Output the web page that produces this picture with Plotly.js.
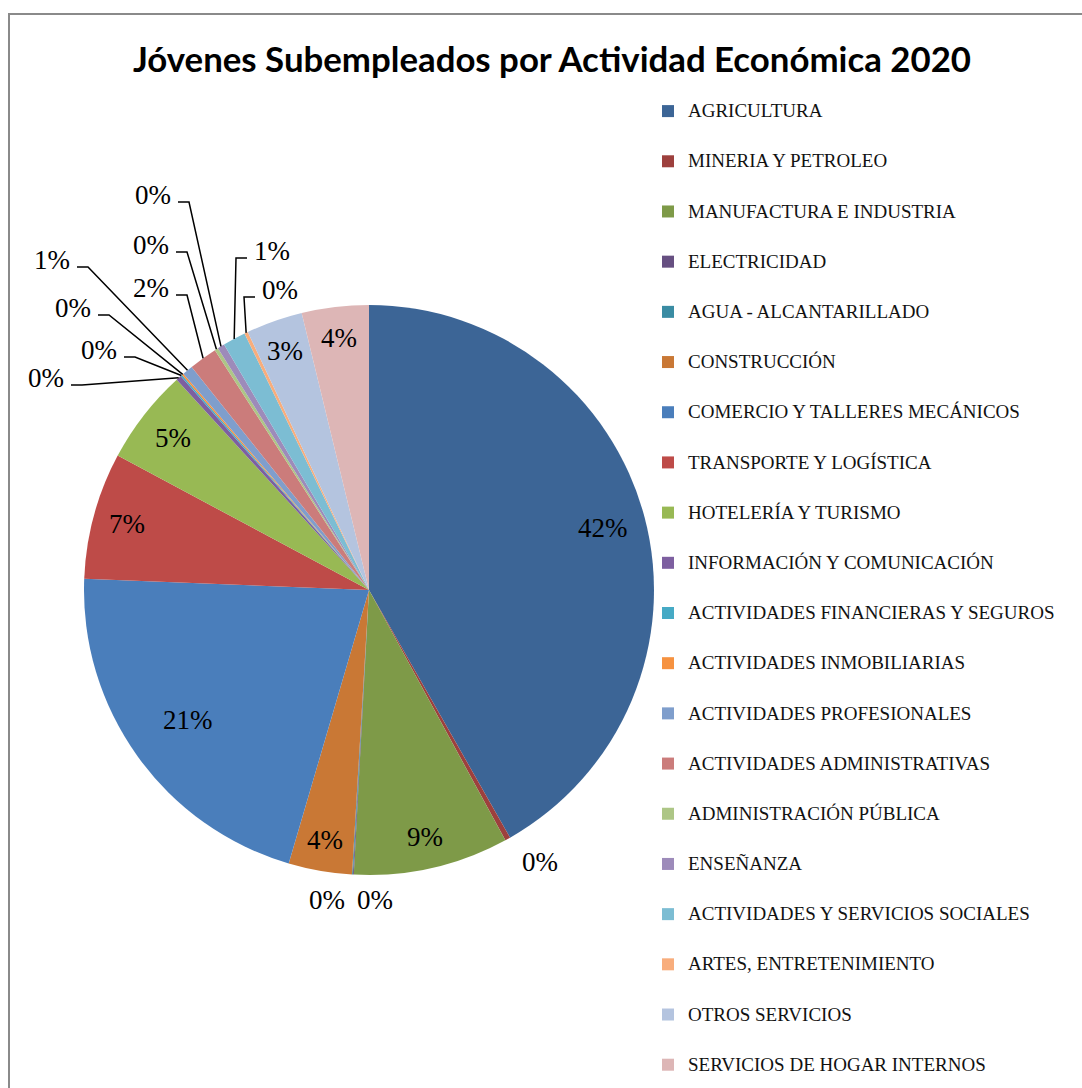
<!DOCTYPE html>
<html>
<head>
<meta charset="utf-8">
<script src="https://cdn.plot.ly/plotly-3.0.1.min.js"></script>
<style>html,body{margin:0;padding:0;background:#fff;overflow:hidden;}</style>
</head>
<body>
<div style="width:1082px;height:1088px;overflow:hidden">
<div id="chart" style="width:1082px;height:1130px"></div>
</div>
<script>
const categories = [
    'AGRICULTURA', 'MINERIA Y PETROLEO', 'MANUFACTURA E INDUSTRIA', 'ELECTRICIDAD',
    'AGUA - ALCANTARILLADO', 'CONSTRUCCIÓN', 'COMERCIO Y TALLERES MECÁNICOS',
    'TRANSPORTE Y LOGÍSTICA', 'HOTELERÍA Y TURISMO', 'INFORMACIÓN Y COMUNICACIÓN',
    'ACTIVIDADES FINANCIERAS Y SEGUROS', 'ACTIVIDADES INMOBILIARIAS', 'ACTIVIDADES PROFESIONALES',
    'ACTIVIDADES ADMINISTRATIVAS', 'ADMINISTRACIÓN PÚBLICA', 'ENSEÑANZA',
    'ACTIVIDADES Y SERVICIOS SOCIALES', 'ARTES, ENTRETENIMIENTO', 'OTROS SERVICIOS',
    'SERVICIOS DE HOGAR INTERNOS'
];
// share of young underemployed, %
const shares = [41.8, 0.3, 8.8, 0.05, 0.05, 3.6, 21.1, 7.2, 5.4, 0.3,
                0.1, 0.1, 0.6, 1.6, 0.2, 0.4, 1.3, 0.2, 3.2, 3.8];

const sliceColors = [
    '#3c6596', '#9d403d', '#7e9a48', '#664f81', '#3a8ca3', '#c97835', '#4a7ebb',
    '#be4b48', '#98b954', '#7d5fa0', '#46aac5', '#f69240', '#7f9ecc', '#cb7c7b',
    '#adc686', '#9d8bba', '#7cbdd3', '#f8ad7c', '#b4c4df', '#ddb6b6'
];

// the figure runs past the bottom of the window (the legend does too in the original)
const W = 1082, H = 1130;
// pie geometry in pixels
const cx = 369, cy = 590, R = 285;

// labels drawn inside the slices: distance from centre as a fraction of the radius
const insideLabels = [
    {cat: 'AGRICULTURA', rf: 0.85},
    {cat: 'MANUFACTURA E INDUSTRIA', rf: 0.89},
    {cat: 'CONSTRUCCIÓN', rf: 0.89},
    {cat: 'COMERCIO Y TALLERES MECÁNICOS', rf: 0.78},
    {cat: 'TRANSPORTE Y LOGÍSTICA', rf: 0.88},
    {cat: 'HOTELERÍA Y TURISMO', rf: 0.87},
    {cat: 'OTROS SERVICIOS', rf: 0.89},
    {cat: 'SERVICIOS DE HOGAR INTERNOS', rf: 0.89}
];

// labels drawn outside the pie: text centre (px) and side the leader leaves from
const callouts = [
    {cat: 'MINERIA Y PETROLEO', tx: 540, ty: 862, side: 0},
    {cat: 'ELECTRICIDAD', tx: 327, ty: 900, side: 0},
    {cat: 'AGUA - ALCANTARILLADO', tx: 375, ty: 900, side: 0},
    {cat: 'INFORMACIÓN Y COMUNICACIÓN', tx: 46, ty: 378, side: 1},
    {cat: 'ACTIVIDADES FINANCIERAS Y SEGUROS', tx: 99, ty: 350, side: 1},
    {cat: 'ACTIVIDADES INMOBILIARIAS', tx: 73, ty: 308, side: 1},
    {cat: 'ACTIVIDADES PROFESIONALES', tx: 52, ty: 260, side: 1},
    {cat: 'ACTIVIDADES ADMINISTRATIVAS', tx: 151, ty: 288, side: 1},
    {cat: 'ADMINISTRACIÓN PÚBLICA', tx: 151, ty: 245, side: 1},
    {cat: 'ENSEÑANZA', tx: 153, ty: 195, side: 1},
    {cat: 'ACTIVIDADES Y SERVICIOS SOCIALES', tx: 272, ty: 251, side: -1},
    {cat: 'ARTES, ENTRETENIMIENTO', tx: 280, ty: 290, side: -1}
];

const total = shares.reduce((a, b) => a + b, 0);

const px = x => x / W;
const py = y => 1 - y / H;

// mid angle of a slice, clockwise from 12 o'clock
function midAngle(i) {
    let before = 0;
    for (let k = 0; k < i; k++) before += shares[k];
    return (before + shares[i] / 2) / total * 2 * Math.PI;
}
const pctText = i => Math.round(shares[i] / total * 100) + '%';

const labelFont = {family: 'Liberation Serif, serif', size: 27, color: '#000'};

let annotations = [];
let shapes = [];

// chart area border
shapes.push({
    type: 'rect', xref: 'paper', yref: 'paper',
    x0: px(9), x1: 1.05, y0: -0.05, y1: py(14),
    line: {color: '#8a8a8a', width: 2}
});

insideLabels.forEach(l => {
    const i = categories.indexOf(l.cat);
    const a = midAngle(i);
    annotations.push({
        xref: 'paper', yref: 'paper',
        x: px(cx + l.rf * R * Math.sin(a)), y: py(cy - l.rf * R * Math.cos(a)),
        xanchor: 'center', yanchor: 'middle',
        text: pctText(i), showarrow: false, font: labelFont
    });
});

callouts.forEach(c => {
    const i = categories.indexOf(c.cat);
    const a = midAngle(i);
    const ex = cx + R * Math.sin(a);
    const ey = cy - R * Math.cos(a);

    annotations.push({
        xref: 'paper', yref: 'paper', x: px(c.tx), y: py(c.ty),
        xanchor: 'center', yanchor: 'middle',
        text: pctText(i), showarrow: false, font: labelFont
    });

    if (c.side !== 0) {
        const sx0 = c.tx + c.side * 25;
        const sx1 = sx0 + c.side * 11;
        const sy = c.ty + 7;
        shapes.push({
            type: 'path', xref: 'paper', yref: 'paper',
            path: `M ${px(sx0)},${py(sy)} L ${px(sx1)},${py(sy)} L ${px(ex)},${py(ey)}`,
            line: {color: '#000', width: 1.5}
        });
    }
});

const legendLabels = categories.map(c =>
    `<span style="font-size:19px;baseline-shift:8px">${c}</span>`);

const trace = {
    type: 'pie',
    labels: legendLabels,
    values: shares,
    sort: false,
    direction: 'clockwise',
    rotation: 0,
    marker: {colors: sliceColors, line: {width: 0}},
    textinfo: 'none',
    hoverinfo: 'skip',
    domain: {
        x: [(cx - R) / W, (cx + R) / W],
        y: [1 - (cy + R) / H, 1 - (cy - R) / H]
    }
};

Plotly.newPlot('chart', [trace], {
    width: W,
    height: H,
    margin: {l: 0, r: 0, t: 0, b: 0},
    paper_bgcolor: '#fff',
    title: {
        text: '<b>Jóvenes Subempleados por Actividad Económica 2020</b>',
        font: {family: 'Lato, sans-serif', size: 34.8, color: '#000'},
        x: 552 / W, xanchor: 'center',
        y: py(60), yanchor: 'middle', yref: 'container'
    },
    showlegend: true,
    legend: {
        x: 648 / W, xanchor: 'left',
        y: py(81), yanchor: 'top',
        font: {family: 'Liberation Serif, serif', size: 36.3, color: '#111'},
        itemwidth: 30,
        bgcolor: 'rgba(0,0,0,0)'
    },
    annotations: annotations,
    shapes: shapes
}, {displayModeBar: false, staticPlot: true});
</script>
</body>
</html>
